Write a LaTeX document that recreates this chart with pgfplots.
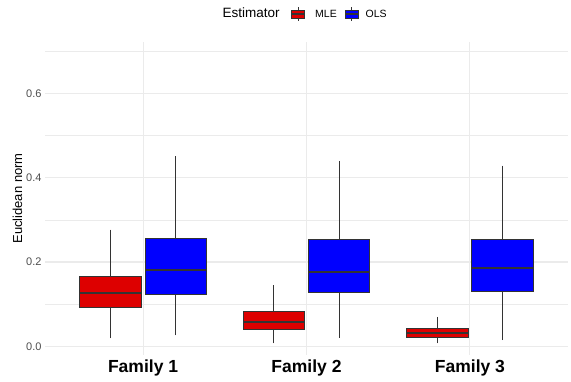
\documentclass[border=0pt]{standalone}
\usepackage{pgfplots}
\pgfplotsset{compat=1.18}
\usepgfplotslibrary{statistics}
\usetikzlibrary{calc}
\usepackage{fontspec}
\setmainfont{Liberation Sans}

\definecolor{mlered}{HTML}{DD0000}
\definecolor{olsblue}{HTML}{0000FF}
\definecolor{edge}{HTML}{333333}
\definecolor{gridc}{HTML}{EBEBEB}
\definecolor{ticktxt}{HTML}{4D4D4D}

\begin{document}
\begin{tikzpicture}[x=1pt,y=1pt]

% ── boxplots (1px = 1pt) ──
\begin{axis}[
    name=ax,
    scale only axis,
    width=523pt, height=313pt,
    xmin=0.4, xmax=3.6,
    ymin=-0.0205, ymax=0.722,
    xtick={1,2,3},
    xticklabels={Family 1, Family 2, Family 3},
    x tick label style={font=\fontsize{17.5}{18}\selectfont\bfseries, text=black, yshift=-1pt},
    ytick={0,0.2,0.4,0.6},
    minor ytick={0.1,0.3,0.5,0.7},
    yticklabel style={font=\fontsize{11}{12}\selectfont, text=ticktxt},
    yticklabel={\pgfmathprintnumber[fixed, fixed zerofill, precision=1]{\tick}},
    /pgf/number format/assume math mode=true,
    ylabel={Euclidean norm},
    ylabel style={font=\fontsize{13}{14}\selectfont, yshift=-3pt},
    axis line style={draw=none},
    major tick length=0pt, minor tick length=0pt,
    tick style={draw=none},
    xmajorgrids, ymajorgrids, yminorgrids,
    major grid style={draw=gridc, line width=1.1pt},
    minor grid style={draw=gridc, line width=0.6pt},
    boxplot/draw direction=y,
    boxplot/whisker extend=0,
    boxplot/box extend=0.376,
    boxplot/every median/.style={line width=2pt, draw=edge},
    boxplot/every whisker/.style={line width=0.8pt, draw=edge},
    boxplot/every box/.style={line width=0.9pt, draw=edge},
]

% MLE
\addplot[fill=mlered, draw=edge, boxplot prepared={draw position=0.8,
    lower whisker=0.019, lower quartile=0.092, median=0.126,
    upper quartile=0.166, upper whisker=0.277}] coordinates {};
\addplot[fill=mlered, draw=edge, boxplot prepared={draw position=1.8,
    lower whisker=0.007, lower quartile=0.040, median=0.058,
    upper quartile=0.082, upper whisker=0.145}] coordinates {};
\addplot[fill=mlered, draw=edge, boxplot prepared={draw position=2.8,
    lower whisker=0.007, lower quartile=0.021, median=0.032,
    upper quartile=0.042, upper whisker=0.070}] coordinates {};

% OLS
\addplot[fill=olsblue, draw=edge, boxplot prepared={draw position=1.2,
    lower whisker=0.026, lower quartile=0.124, median=0.180,
    upper quartile=0.255, upper whisker=0.451}] coordinates {};
\addplot[fill=olsblue, draw=edge, boxplot prepared={draw position=2.2,
    lower whisker=0.021, lower quartile=0.128, median=0.176,
    upper quartile=0.253, upper whisker=0.440}] coordinates {};
\addplot[fill=olsblue, draw=edge, boxplot prepared={draw position=3.2,
    lower whisker=0.015, lower quartile=0.131, median=0.186,
    upper quartile=0.253, upper whisker=0.429}] coordinates {};

\end{axis}

% ── legend on top, picture frame: origin = image bottom-left ──
\begin{scope}[shift={($(ax.south west)+(-45,-26)$)}]
\node[anchor=mid west, inner sep=0pt, font=\fontsize{13.5}{15}\selectfont] at (222.5,366) {Estimator};
\draw[edge, line width=0.8pt] (298,360) -- (298,374);
\filldraw[fill=mlered, draw=edge, line width=0.7pt] (291.7,363) rectangle (304.3,371);
\draw[edge, line width=1.2pt] (291.7,367) -- (304.3,367);
\node[anchor=mid west, inner sep=0pt, font=\fontsize{10.5}{12}\selectfont] at (315,366.5) {MLE};
\draw[edge, line width=0.8pt] (351.8,360) -- (351.8,374);
\filldraw[fill=olsblue, draw=edge, line width=0.7pt] (345.5,363) rectangle (358.1,371);
\draw[edge, line width=1.2pt] (345.5,367) -- (358.1,367);
\node[anchor=mid west, inner sep=0pt, font=\fontsize{10.5}{12}\selectfont] at (365.5,366.5) {OLS};
\coordinate (bbsw) at (0,0);
\coordinate (bbne) at (571,381);
\end{scope}

\pgfresetboundingbox
\path (bbsw) rectangle (bbne);
\end{tikzpicture}
\end{document}
